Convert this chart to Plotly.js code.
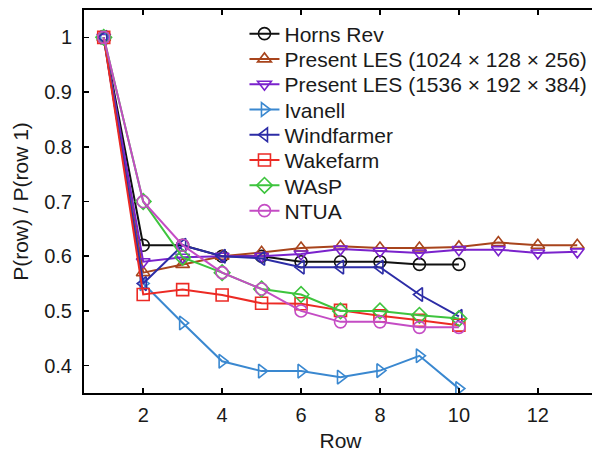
<!DOCTYPE html>
<html>
<head>
<meta charset="utf-8">
<script src="https://cdn.plot.ly/plotly-3.0.1.min.js"></script>
<style>
html, body { margin: 0; padding: 0; overflow: hidden; background: #fff; }
#chart { width: 600px; height: 452px; }
</style>
</head>
<body>
<div id="chart"></div>
<script>
const rows = [1, 2, 3, 4, 5, 6, 7, 8, 9, 10, 11, 12, 13];

const hornsRev   = [1, 0.620, 0.620, 0.600, 0.600, 0.590, 0.590, 0.590, 0.585, 0.585];
const les1024    = [1, 0.570, 0.585, 0.600, 0.607, 0.615, 0.618, 0.615, 0.615, 0.617, 0.625, 0.620, 0.620];
const les1536    = [1, 0.590, 0.598, 0.600, 0.600, 0.604, 0.613, 0.609, 0.606, 0.612, 0.612, 0.606, 0.608];
const ivanell    = [1, 0.550, 0.478, 0.408, 0.390, 0.390, 0.379, 0.391, 0.418, 0.358];
const windfarmer = [1, 0.550, 0.620, 0.600, 0.596, 0.580, 0.580, 0.580, 0.530, 0.490];
const wakefarm   = [1, 0.530, 0.539, 0.529, 0.514, 0.513, 0.501, 0.491, 0.483, 0.474];
const wasp       = [1, 0.700, 0.598, 0.570, 0.540, 0.530, 0.500, 0.500, 0.492, 0.486];
const ntua       = [1, 0.700, 0.620, 0.570, 0.540, 0.500, 0.480, 0.480, 0.470, 0.470];

const names = [
  "Horns Rev",
  "Present LES (1024 \u00d7 128 \u00d7 256)",
  "Present LES (1536 \u00d7 192 \u00d7 384)",
  "Ivanell",
  "Windfarmer",
  "Wakefarm",
  "WAsP",
  "NTUA"
];
const seriesList = [hornsRev, les1024, les1536, ivanell, windfarmer, wakefarm, wasp, ntua];
const colors = ["#111111", "#a8441c", "#7a22cc", "#3a88d0", "#2c2ca6", "#ec2a24", "#3ec43e", "#c44cc4"];
const symbols = ["circle-open", "triangle-up-open", "triangle-down-open", "triangle-right-open",
                 "triangle-left-open", "square-open", "diamond-open", "circle-open"];

const legendIds = ["legend", "legend2", "legend3", "legend4", "legend5", "legend6", "legend7", "legend8"];

const traces = seriesList.map((vals, i) => ({
  x: rows.slice(0, vals.length),
  y: vals,
  name: names[i],
  legend: legendIds[i],
  type: "scatter",
  mode: "lines+markers",
  line: { color: colors[i], width: 2 },
  marker: { symbol: symbols[i], size: 12, color: colors[i], line: { color: colors[i], width: 1.6 } }
}));

const family = "Liberation Sans, Arial, Helvetica, sans-serif";
const textFont = { family: family, size: 21, color: "#1a1a1a" };
const tickFont = { family: family, size: 20, color: "#1a1a1a" };

const plotTop = 9.5, plotBottom = 392.7;
const layout = {
  width: 600,
  height: 452,
  margin: { l: 84, r: 2.5, t: plotTop, b: 452 - plotBottom },
  paper_bgcolor: "#fff",
  plot_bgcolor: "#fff",
  font: textFont,
  showlegend: true,
  xaxis: {
    range: [0.5, 13.5],
    tick0: 0, dtick: 2,
    showgrid: false, zeroline: false,
    showline: true, linecolor: "#000", linewidth: 2,
    mirror: "ticks", ticks: "inside", ticklen: 5, tickwidth: 1.5, tickcolor: "#000",
    ticklabelstandoff: 3,
    tickfont: tickFont,
    title: { text: "Row", font: textFont, standoff: 8 }
  },
  yaxis: {
    range: [0.35, 1.05],
    tick0: 0, dtick: 0.1,
    showgrid: false, zeroline: false,
    showline: true, linecolor: "#000", linewidth: 2,
    mirror: "ticks", ticks: "inside", ticklen: 5, tickwidth: 1.5, tickcolor: "#000",
    ticklabelstandoff: 6,
    tickfont: tickFont,
    title: { text: "P(row) / P(row 1)", font: textFont, standoff: 10 }
  }
};

// one single-entry legend per series so rows sit at the reference spacing
const rowCentersPx = [33.5, 58.8, 84.1, 109.4, 134.7, 160.0, 185.3, 210.6];
legendIds.forEach((id, i) => {
  layout[id] = {
    x: 0.3128,
    y: (plotBottom - rowCentersPx[i]) / (plotBottom - plotTop),
    xanchor: "left", yanchor: "middle",
    bgcolor: "rgba(255,255,255,0)",
    borderwidth: 0,
    font: textFont
  };
});

Plotly.newPlot("chart", traces, layout, { displayModeBar: false, staticPlot: true });
</script>
</body>
</html>
